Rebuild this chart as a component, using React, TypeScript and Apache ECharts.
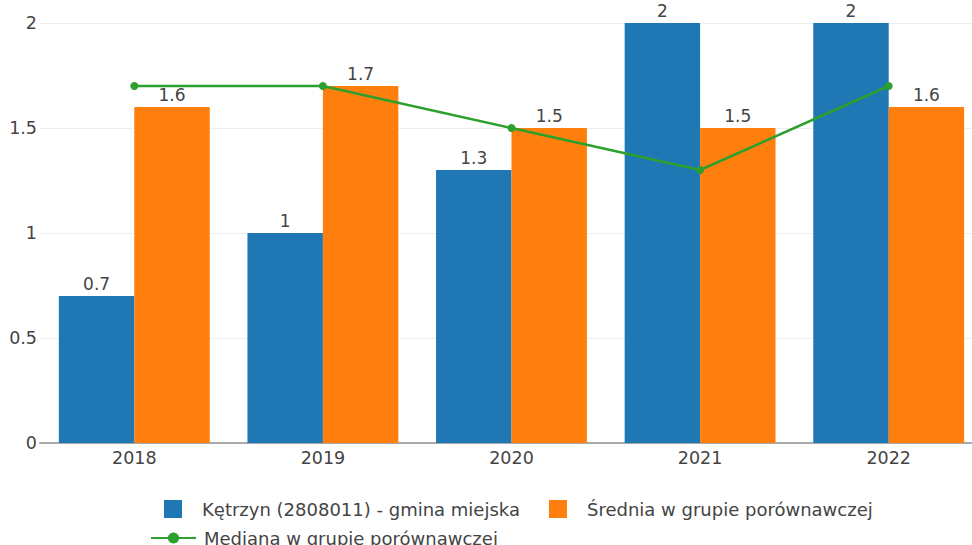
import React, { useEffect, useRef } from "react";
import * as echarts from "echarts";

const categories = ["2018", "2019", "2020", "2021", "2022"];
const gminaValues = [0.7, 1, 1.3, 2, 2];
const sredniaValues = [1.6, 1.7, 1.5, 1.5, 1.6];
const medianaValues = [1.7, 1.7, 1.5, 1.3, 1.7];
const yTicks = [0, 0.5, 1, 1.5, 2];

const NAME_GMINA = "Kętrzyn (2808011) - gmina miejska";
const NAME_SREDNIA = "Średnia w grupie porównawczej";
const NAME_MEDIANA = "Mediana w grupie porównawczej";

const FONT = "DejaVu Sans";
const TEXT = "#444";
const FS = 17.5;
const LEGEND_FS = 18;

export default function App() {
  const ref = useRef<HTMLDivElement>(null);
  useEffect(() => {
    if (!ref.current) return;
    const chart = echarts.init(ref.current, null, { renderer: "svg" });
    const label = {
      show: true,
      position: "top",
      distance: 4,
      color: TEXT,
      fontFamily: FONT,
      fontSize: 17,
    };
    chart.setOption({
      animation: false,
      textStyle: { fontFamily: FONT },
      grid: { left: 40, right: 0, top: 23, bottom: 102, containLabel: false },
      legend: [
        {
          data: [NAME_GMINA, NAME_SREDNIA],
          left: 159,
          top: 495,
          itemWidth: 18,
          itemHeight: 18,
          itemGap: 29,
          icon: "rect",
          textStyle: { color: TEXT, fontSize: LEGEND_FS, fontFamily: FONT, padding: [0, 0, 0, 15] },
          selectedMode: false,
        },
        {
          data: [NAME_MEDIANA],
          left: 145,
          top: 524,
          itemWidth: 45,
          itemHeight: 14,
          textStyle: { color: TEXT, fontSize: LEGEND_FS, fontFamily: FONT, padding: [0, 0, 0, 3] },
          selectedMode: false,
        },
      ],
      xAxis: {
        type: "category",
        data: categories,
        axisLine: { show: true, lineStyle: { color: "#aaa", width: 2 } },
        axisTick: { show: false },
        axisLabel: { color: TEXT, fontSize: FS, fontFamily: FONT, margin: 6 },
      },
      yAxis: {
        type: "value",
        min: 0,
        max: 2,
        interval: 0.5,
        axisLine: { show: false },
        axisTick: { show: false },
        splitLine: { lineStyle: { color: "#eee", width: 1 } },
        axisLabel: {
          color: TEXT,
          fontSize: FS,
          fontFamily: FONT,
          margin: 3,
          formatter: (v: number) => (yTicks.includes(v) ? String(v) : ""),
        },
      },
      series: [
        {
          name: NAME_GMINA,
          type: "bar",
          data: gminaValues,
          barGap: "0%",
          barCategoryGap: "20%",
          itemStyle: { color: "#1f77b4" },
          label,
        },
        {
          name: NAME_SREDNIA,
          type: "bar",
          data: sredniaValues,
          barGap: "0%",
          barCategoryGap: "20%",
          itemStyle: { color: "#ff7f0e" },
          label,
        },
        {
          name: NAME_MEDIANA,
          type: "line",
          data: medianaValues,
          symbol: "circle",
          symbolSize: 8,
          lineStyle: { color: "#2ca02c", width: 2.5 },
          itemStyle: { color: "#2ca02c" },
          z: 5,
        },
      ],
    });
    return () => chart.dispose();
  }, []);
  return (
    <div style={{ width: 972, height: 545, position: "absolute", left: 0, top: 0, overflow: "hidden" }}>
      <div ref={ref} style={{ width: 983, height: 545 }} />
    </div>
  );
}
